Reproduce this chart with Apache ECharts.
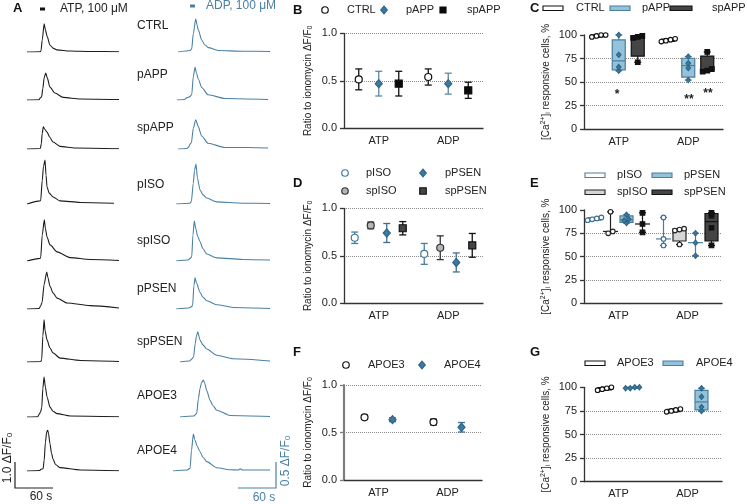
<!DOCTYPE html>
<html><head><meta charset="utf-8">
<script src="https://cdn.jsdelivr.net/npm/echarts@6/dist/echarts.min.js"></script>
<style>html,body{margin:0;padding:0;background:#fff}#c{width:747px;height:504px}</style>
</head><body><div id="c"></div>
<script>
// ---------------- DATA ----------------
const traceLabels = ['CTRL','pAPP','spAPP','pISO','spISO','pPSEN','spPSEN','APOE3','APOE4'];
// Panel A traces: [time s, ΔF/F0]
const atpCTRL  = [[0,0],[21,0.01],[22,0.04],[24,0.46],[27,1.08],[29,0.85],[32,0.58],[36,0.27],[41,0.15],[47,0.08],[68,0.04],[100,0.02],[145,0.01]];
const atpPAPP  = [[0,0],[19,0.01],[21,0.08],[23,0.12],[25,0.45],[27,0.85],[29.5,1.04],[32,0.85],[36,0.5],[44,0.27],[57,0.1],[84,0.04],[145,0.02]];
const atpSPAPP = [[0,0],[21,0.02],[22.5,0.2],[24,0.6],[25.7,0.85],[28,0.76],[31.6,0.65],[36,0.45],[41,0.27],[52,0.1],[76,0.04],[145,0.01]];
const atpPISO  = [[0,0],[20.5,0.12],[21.6,0.15],[24,0.9],[26,1.45],[28.4,1.69],[30,1.1],[31.6,0.65],[35,0.42],[41,0.27],[52,0.12],[84,0.06],[137,0.03]];
const atpSPISO = [[0,0],[20.5,0.1],[21.6,0.14],[24,1.0],[27.3,1.58],[29,1.25],[31.6,0.92],[36.3,0.62],[47.4,0.35],[68,0.13],[99.5,0.06],[145,0.02]];
const atpPPSEN = [[0,0],[19,0.02],[21.6,0.12],[23.7,0.25],[27,0.95],[31.1,1.42],[33,1.2],[36.3,0.87],[41,0.62],[47.4,0.42],[63,0.23],[99.5,0.13],[145,0.04]];
const atpSPPSEN= [[0,0],[22,0.02],[23.2,0.1],[25,1.0],[26.9,1.62],[28.5,1.2],[31.6,0.85],[36,0.55],[41,0.35],[52,0.15],[84,0.06],[145,0.02]];
const atpAPOE3 = [[0,0],[17,0.01],[19.5,0.12],[21.3,0.19],[23.2,0.35],[25,1.1],[26.9,1.54],[29,1.15],[31.6,0.77],[36.3,0.38],[41,0.22],[47.4,0.13],[68,0.04],[145,0.01]];
const atpAPOE4 = [[0,0],[20,0.02],[22,0.07],[25.3,0.08],[27,0.4],[29,1.1],[31,1.5],[32.7,1.57],[34,1.42],[36.3,1.04],[38.5,0.7],[41,0.46],[45,0.25],[52,0.13],[84,0.04],[145,0.01]];

const adpCTRL  = [[8,0],[27,0.03],[29.5,0.06],[32,0.35],[35.9,0.64],[38,0.52],[40,0.42],[45.3,0.23],[50,0.14],[55.8,0.085],[71,0.03],[110,0.015],[153,0.01]];
const adpPAPP  = [[6,0],[18,0.01],[22,0.045],[26,0.06],[29.5,0.1],[32,0.45],[34.8,0.63],[37,0.52],[40,0.4],[45.3,0.24],[55.3,0.1],[82,0.03],[150,0.01]];
const adpSPAPP = [[8,0],[22,0.01],[25,0.04],[27,0.1],[29,0.12],[32,0.4],[35.9,0.56],[39.5,0.44],[45.3,0.25],[55.3,0.11],[82,0.03],[120,0.03],[150,0.02]];
const adpPISO  = [[5,0],[26.9,0.015],[29,0.05],[32,0.4],[34,0.65],[36.3,0.77],[38.5,0.5],[42.7,0.27],[47,0.18],[53.2,0.115],[69,0.04],[110,0.015],[153,0.01]];
const adpSPISO = [[5,0],[24,0.02],[26.9,0.05],[29.5,0.08],[31.5,0.5],[33.6,0.77],[36,0.62],[39,0.47],[42.7,0.37],[47,0.24],[53.2,0.135],[69,0.06],[110,0.03],[153,0.02]];
const adpPPSEN = [[5,0],[25,0.02],[29.5,0.045],[31,0.08],[33,0.45],[34.8,0.6],[37,0.5],[42.7,0.32],[47,0.23],[53.2,0.16],[69,0.083],[95,0.03],[153,0.01]];
const adpSPPSEN= [[11,0],[26,0.02],[30,0.06],[32.5,0.1],[35,0.35],[37,0.5],[39,0.58],[42.7,0.42],[47,0.33],[53.2,0.25],[69,0.13],[95,0.063],[153,0.02]];
const adpAPOE3 = [[11,0],[33,0.02],[37.4,0.07],[40,0.35],[42.7,0.55],[45,0.66],[47.9,0.71],[50,0.65],[53.2,0.51],[58.5,0.32],[63,0.22],[69,0.13],[90,0.03],[153,0.01]];
const adpAPOE4 = [[0,0],[22,0.02],[26.9,0.05],[29.2,0.4],[32.1,0.71],[34.5,0.6],[38,0.48],[42.7,0.37],[47,0.27],[53.2,0.18],[69,0.063],[90,0.025],[103,0.02],[106,0.04],[110,0.02],[153,0.02]];

const categories = ['ATP','ADP'];

// Panel B: mean and error (ratio to ionomycin)
const bCtrlMean  = [0.515, 0.54], bCtrlErr  = [0.11, 0.085];
const bPappMean  = [0.47, 0.47],  bPappErr  = [0.13, 0.11];
const bSpappMean = [0.47, 0.40],  bSpappErr = [0.13, 0.085];
// Panel D
const dPisoMean   = [0.69, 0.52],  dPisoErr   = [0.06, 0.11];
const dSpisoMean  = [0.82, 0.585], dSpisoErr  = [0.035, 0.125];
const dPpsenMean  = [0.74, 0.43],  dPpsenErr  = [0.10, 0.10];
const dSppsenMean = [0.79, 0.61],  dSppsenErr = [0.07, 0.125];
// Panel F
const fApoe3Mean = [0.66, 0.61],  fApoe3Err = [0.02, 0.03];
const fApoe4Mean = [0.635, 0.555], fApoe4Err = [0.02, 0.05];

// Panel C: responsive cells, % (per culture)
const cCtrlAtp  = [98, 99, 100, 100], cCtrlAdp  = [93, 94, 95, 96];
const cPappAtp  = [62, 66, 79, 100],  cPappAdp  = [52, 65, 70, 77];
const cSpappAtp = [71, 97, 98, 99],   cSpappAdp = [61, 62, 64, 82];
// Panel E
const ePisoAtp   = [89, 90, 91, 92], ePisoAdp   = [62, 69, 92];
const eSpisoAtp  = [75, 77, 98],     eSpisoAdp  = [63, 78, 79, 80];
const ePpsenAtp  = [86, 89, 90, 95], ePpsenAdp  = [51, 65, 75];
const eSppsenAtp = [76, 85, 97],     eSppsenAdp = [62, 81, 94, 97];
// Panel G
const gApoe3Atp = [97, 98, 99, 100], gApoe3Adp = [74, 75, 76, 77];
const gApoe4Atp = [99, 99, 100, 100], gApoe4Adp = [75, 79, 90, 99];

// ---------------- STYLE ----------------
const FF = '"Liberation Sans", Arial, Helvetica, sans-serif';
const INK = '#222';
const AXC = '#333';
const BLUE = '#3d7aa0';
const BLUE_LINE = '#4b80a6';
const BLUE_EDGE = '#4d7c9c';
const LBLUE = '#93c2db';
const DARK = '#454545';
const GRAYPT = '#b5b5b5';
const LGRAY = '#d6d6d6';

const atpTraces = [atpCTRL, atpPAPP, atpSPAPP, atpPISO, atpSPISO, atpPPSEN, atpSPPSEN, atpAPOE3, atpAPOE4];
const adpTraces = [adpCTRL, adpPAPP, adpSPAPP, adpPISO, adpSPISO, adpPPSEN, adpSPPSEN, adpAPOE3, adpAPOE4];
const rowBase = [52, 100, 149, 204, 261, 309, 362, 417, 471];
const rowLabelY = [26, 75, 128, 185, 241, 289, 342, 396, 451];

const grid = [], xAxis = [], yAxis = [], series = [];

// trace grids
function hiddenAxes(gi, xmax, ymax) {
  xAxis.push({type: 'value', gridIndex: gi, min: 0, max: xmax, show: false});
  yAxis.push({type: 'value', gridIndex: gi, min: 0, max: ymax, show: false});
}
for (let i = 0; i < 9; i++) {
  grid.push({left: 27, top: rowBase[i] - 52, width: 92, height: 52});
  hiddenAxes(i, 145, 2);
  series.push({type: 'line', xAxisIndex: i, yAxisIndex: i, data: atpTraces[i], showSymbol: false,
    smooth: 0.25, smoothMonotone: 'x', lineStyle: {color: '#1c1c1c', width: 1.1}, silent: true});
}
for (let i = 0; i < 9; i++) {
  const gi = 9 + i;
  grid.push({left: 173, top: rowBase[i] - 52, width: 97, height: 52});
  hiddenAxes(gi, 153, 1);
  series.push({type: 'line', xAxisIndex: gi, yAxisIndex: gi, data: adpTraces[i], showSymbol: false,
    smooth: 0.25, smoothMonotone: 'x', lineStyle: {color: BLUE_LINE, width: 1.1}, silent: true});
}

// panel grids
const panels = {
  B: {left: 344, top: 33.3, width: 139, height: 95, ratio: true, maxLine: true},
  C: {left: 584, top: 35, width: 139, height: 94, ratio: false},
  D: {left: 344, top: 208.3, width: 139, height: 95, ratio: true, maxLine: true},
  E: {left: 584, top: 210, width: 138, height: 93.3, ratio: false},
  F: {left: 344, top: 385, width: 138, height: 95, ratio: true, maxLine: true, grayY: true},
  G: {left: 584, top: 387.3, width: 138, height: 94.4, ratio: false}
};
const pIdx = {};
Object.keys(panels).forEach((k, j) => {
  const p = panels[k];
  const gi = 18 + j;
  pIdx[k] = gi;
  grid.push({left: p.left, top: p.top, width: p.width, height: p.height});
  xAxis.push({type: 'category', gridIndex: gi, data: categories, boundaryGap: true,
    axisLine: {lineStyle: {color: AXC, width: 1.3}},
    axisTick: {alignWithLabel: true, length: 4, lineStyle: {color: AXC, width: 1.3}},
    axisLabel: {color: INK, fontSize: 11, fontFamily: FF, margin: 7}, splitLine: {show: false}});
  yAxis.push({type: 'value', gridIndex: gi, min: 0, max: p.ratio ? 1 : 100, interval: p.ratio ? 0.5 : 25,
    axisLine: {show: true, lineStyle: {color: p.grayY ? '#7d7d7d' : AXC, width: p.grayY ? 2.2 : 1.3}},
    axisTick: {show: true, length: 4, lineStyle: {color: p.grayY ? '#7d7d7d' : AXC, width: 1.3}},
    axisLabel: {color: INK, fontSize: 11, fontFamily: FF, margin: 7,
      formatter: v => p.ratio ? v.toFixed(1) : String(v)},
    splitLine: {show: true, showMinLine: false, showMaxLine: !!p.maxLine,
      lineStyle: {type: 'dotted', color: '#8c8c8c', width: 1}},
    name: p.ratio ? 'Ratio to ionomycin ΔF/F{sub|0}' : '[Ca{sup|2+}]{sub|i} responsive cells, %',
    nameLocation: 'middle', nameGap: p.ratio ? 30 : 32,
    nameTextStyle: {color: INK, fontSize: 10, fontFamily: FF, lineHeight: 12,
      rich: {sub: {fontSize: 7, fontFamily: FF, color: INK, verticalAlign: 'bottom', lineHeight: 12},
             sup: {fontSize: 7, fontFamily: FF, color: INK, verticalAlign: 'top', lineHeight: 12}}}
  });
});

// marker drawing helper
function marker(shape, x, y, size, fill, stroke, lw) {
  const r = size / 2;
  const st = {fill: fill, stroke: stroke, lineWidth: lw || 1.1};
  if (shape === 'circle') return {type: 'circle', shape: {cx: x, cy: y, r: r}, style: st};
  if (shape === 'diamond') return {type: 'polygon', shape: {points: [[x, y - r * 1.15], [x + r, y], [x, y + r * 1.15], [x - r, y]]}, style: st};
  return {type: 'rect', shape: {x: x - r, y: y - r, width: size, height: size}, style: st};
}

// error-bar + marker series
function errSeries(panel, means, errs, offset, o) {
  const gi = pIdx[panel];
  const data = means.map((m, i) => [i, m, errs[i]]);
  series.push({type: 'custom', xAxisIndex: gi, yAxisIndex: gi, data: data, silent: true, z: 5,
    renderItem: function (params, api) {
      const c = api.coord([api.value(0), api.value(1)]);
      const x = c[0] + offset;
      const yt = api.coord([api.value(0), api.value(1) + api.value(2)])[1];
      const yb = api.coord([api.value(0), api.value(1) - api.value(2)])[1];
      const ls = {stroke: o.bar, lineWidth: 1.3};
      return {type: 'group', children: [
        {type: 'line', shape: {x1: x, y1: yt, x2: x, y2: yb}, style: ls},
        {type: 'line', shape: {x1: x - 3.5, y1: yt, x2: x + 3.5, y2: yt}, style: ls},
        {type: 'line', shape: {x1: x - 3.5, y1: yb, x2: x + 3.5, y2: yb}, style: ls},
        marker(o.shape, x, c[1], o.size || 7, o.fill, o.stroke, 1.2)
      ]};
    }});
}

// quartiles (n+1 method)
function quant(sorted, p) {
  const n = sorted.length;
  let pos = p * (n + 1);
  pos = Math.min(Math.max(pos, 1), n);
  const lo = Math.floor(pos), hi = Math.ceil(pos);
  return sorted[lo - 1] + (pos - lo) * (sorted[hi - 1] - sorted[lo - 1]);
}
function jitter(vals) {
  const idx = vals.map((v, i) => i).sort((a, b) => vals[a] - vals[b]);
  const dx = vals.map(() => 0);
  let cl = [idx[0]];
  for (let k = 1; k <= idx.length; k++) {
    if (k < idx.length && vals[idx[k]] - vals[cl[cl.length - 1]] < 3) cl.push(idx[k]);
    else {
      const m = cl.length;
      cl.forEach((id, j) => { dx[id] = (j - (m - 1) / 2) * 4.6; });
      if (k < idx.length) cl = [idx[k]];
    }
  }
  return dx;
}
function boxSeries(panel, atpPts, adpPts, offset, o) {
  const gi = pIdx[panel];
  const groups = [atpPts, adpPts];
  const boxData = groups.map((g, i) => {
    const s = g.slice().sort((a, b) => a - b);
    return [i, s[0], quant(s, 0.25), quant(s, 0.5), quant(s, 0.75), s[s.length - 1], s.length];
  });
  series.push({type: 'custom', xAxisIndex: gi, yAxisIndex: gi, data: boxData, silent: true, z: 4,
    renderItem: function (params, api) {
      const x = api.coord([api.value(0), 0])[0] + offset;
      const Y = v => api.coord([api.value(0), v])[1];
      const mn = api.value(1), q1 = api.value(2), md = api.value(3), q3 = api.value(4), mx = api.value(5), n = api.value(6);
      const hw = 6.5, cw = 3.5;
      const ls = {stroke: o.edge, lineWidth: 1.2};
      const ch = [
        {type: 'line', shape: {x1: x, y1: Y(mx), x2: x, y2: Y(mn)}, style: ls},
        {type: 'line', shape: {x1: x - cw, y1: Y(mx), x2: x + cw, y2: Y(mx)}, style: ls},
        {type: 'line', shape: {x1: x - cw, y1: Y(mn), x2: x + cw, y2: Y(mn)}, style: ls}
      ];
      if (n > 3) ch.push({type: 'rect', shape: {x: x - hw, y: Y(q3), width: 2 * hw, height: Y(q1) - Y(q3)},
        style: {fill: o.box, stroke: o.edge, lineWidth: 1.2}});
      const mw = n > 3 ? hw : 7.5;
      ch.push({type: 'line', shape: {x1: x - mw, y1: Y(md), x2: x + mw, y2: Y(md)}, style: ls});
      return {type: 'group', children: ch};
    }});
  const ptData = [];
  groups.forEach((g, i) => { const d = jitter(g); g.forEach((v, j) => ptData.push([i, v, d[j]])); });
  series.push({type: 'custom', xAxisIndex: gi, yAxisIndex: gi, data: ptData, silent: true, z: 6,
    renderItem: function (params, api) {
      const c = api.coord([api.value(0), api.value(1)]);
      return marker(o.shape, c[0] + offset + api.value(2), c[1], 4.6, o.pfill, o.pstroke, 1.1);
    }});
}

// Panel B
errSeries('B', bCtrlMean, bCtrlErr, -20, {shape: 'circle', fill: '#fff', stroke: '#111', bar: '#111'});
errSeries('B', bPappMean, bPappErr, 0, {shape: 'diamond', fill: BLUE, stroke: '#2f6587', bar: '#5d87a3'});
errSeries('B', bSpappMean, bSpappErr, 20, {shape: 'square', fill: '#0a0a0a', stroke: '#0a0a0a', bar: '#111'});
// Panel D
errSeries('D', dPisoMean, dPisoErr, -24, {shape: 'circle', fill: '#fff', stroke: BLUE, bar: '#4d7c9c'});
errSeries('D', dSpisoMean, dSpisoErr, -8, {shape: 'circle', fill: GRAYPT, stroke: '#333', bar: '#333'});
errSeries('D', dPpsenMean, dPpsenErr, 8, {shape: 'diamond', fill: BLUE, stroke: '#2f6587', bar: '#3f6f90'});
errSeries('D', dSppsenMean, dSppsenErr, 24, {shape: 'square', fill: DARK, stroke: '#111', bar: '#111'});
// Panel F
errSeries('F', fApoe3Mean, fApoe3Err, -14, {shape: 'circle', fill: '#fff', stroke: '#111', bar: '#111'});
errSeries('F', fApoe4Mean, fApoe4Err, 14, {shape: 'diamond', fill: BLUE, stroke: '#2f6587', bar: '#3f6f90'});
// Panel C
boxSeries('C', cCtrlAtp, cCtrlAdp, -20, {box: '#fff', edge: '#111', shape: 'circle', pfill: '#fff', pstroke: '#111'});
boxSeries('C', cPappAtp, cPappAdp, 0, {box: LBLUE, edge: BLUE_EDGE, shape: 'diamond', pfill: BLUE, pstroke: '#2f6587'});
boxSeries('C', cSpappAtp, cSpappAdp, 19, {box: DARK, edge: '#111', shape: 'square', pfill: '#111', pstroke: '#111'});
// Panel E
boxSeries('E', ePisoAtp, ePisoAdp, -24, {box: '#fff', edge: BLUE_EDGE, shape: 'circle', pfill: '#fff', pstroke: '#3d6f90'});
boxSeries('E', eSpisoAtp, eSpisoAdp, -8, {box: LGRAY, edge: '#222', shape: 'circle', pfill: '#fff', pstroke: '#222'});
boxSeries('E', ePpsenAtp, ePpsenAdp, 8, {box: LBLUE, edge: BLUE_EDGE, shape: 'diamond', pfill: BLUE, pstroke: '#2f6587'});
boxSeries('E', eSppsenAtp, eSppsenAdp, 24, {box: DARK, edge: '#111', shape: 'square', pfill: '#111', pstroke: '#111'});
// Panel G
boxSeries('G', gApoe3Atp, gApoe3Adp, -14, {box: '#fff', edge: '#111', shape: 'circle', pfill: '#fff', pstroke: '#111'});
boxSeries('G', gApoe4Atp, gApoe4Adp, 14, {box: LBLUE, edge: BLUE_EDGE, shape: 'diamond', pfill: BLUE, pstroke: '#2f6587'});

// ---------------- GRAPHIC (labels, legends, scale bars) ----------------
const G = [];
function txt(x, y, text, o) {
  o = o || {};
  G.push({type: 'text', x: x, y: y, rotation: o.rot || 0, silent: true, z: 10,
    style: {text: text, fontSize: o.size || 11, fontFamily: FF, fontWeight: o.bold ? 'bold' : 'normal',
      fill: o.color || INK, align: o.align || 'left', verticalAlign: 'middle',
      textAlign: o.align || 'left', textVerticalAlign: 'middle', rich: o.rich}});
}
function rect(x, y, w, h, fill, stroke) {
  G.push({type: 'rect', shape: {x: x, y: y, width: w, height: h}, silent: true, z: 10,
    style: {fill: fill, stroke: stroke || null, lineWidth: 1.1}});
}
function legMarker(shape, x, y, size, fill, stroke) {
  const m = marker(shape, x, y, size, fill, stroke, 1.2); m.silent = true; m.z = 10; G.push(m);
}
function line(points, color, w) {
  G.push({type: 'polyline', shape: {points: points}, silent: true, z: 10, style: {stroke: color, lineWidth: w || 1.2, fill: null}});
}

// panel letters
[['A', 13, 8], ['B', 293, 10], ['C', 530, 8], ['D', 293, 183], ['E', 530, 183], ['F', 293, 352], ['G', 530, 352]]
  .forEach(l => txt(l[1], l[2], l[0], {size: 13, bold: true, color: '#111'}));

// Panel A headers
rect(40, 7.5, 5, 3, '#111');
txt(60, 9, 'ATP, 100 μM', {size: 12});
rect(190, 4.5, 5, 3, BLUE_LINE);
txt(206, 6, 'ADP, 100 μM', {size: 12, color: BLUE_LINE});
traceLabels.forEach((t, i) => txt(137, rowLabelY[i], t, {size: 12}));

// scale bars
const subRich = c => ({s: {fontSize: 8, fontFamily: FF, fill: c, color: c, verticalAlign: 'bottom'}});
line([[15, 462], [15, 488], [53, 488]], '#222', 1.2);
txt(8, 458, '1.0 ΔF/F{s|0}', {size: 12, align: 'center', rot: Math.PI / 2, rich: subRich(INK)});
txt(41, 497, '60 s', {size: 12, align: 'center'});
line([[238, 488], [276, 488], [276, 462]], BLUE_LINE, 1.2);
txt(286, 461, '0.5 ΔF/F{s|0}', {size: 12, align: 'center', rot: Math.PI / 2, color: BLUE_LINE, rich: subRich(BLUE_LINE)});
txt(264, 498, '60 s', {size: 12, align: 'center', color: BLUE_LINE});

// Legend B
legMarker('circle', 325, 10, 6.5, '#fff', '#111'); txt(347, 10, 'CTRL');
legMarker('diamond', 384, 10, 6.5, BLUE, '#2f6587'); txt(406, 10, 'pAPP');
legMarker('square', 443, 10, 6, '#0a0a0a', '#0a0a0a'); txt(467, 10, 'spAPP');
// Legend C
rect(543, 6, 20, 4.5, '#fff', '#111'); txt(576, 8, 'CTRL');
rect(610, 6, 20, 4.5, LBLUE, BLUE_EDGE); txt(642, 8, 'pAPP');
rect(670, 6, 22, 4.5, DARK, '#111'); txt(712, 8, 'spAPP');
// Legend D
legMarker('circle', 345, 173, 6.5, '#fff', BLUE); txt(366, 173, 'pISO');
legMarker('diamond', 423, 173, 6.5, BLUE, '#2f6587'); txt(445, 173, 'pPSEN');
legMarker('circle', 345, 191, 6.5, GRAYPT, '#333'); txt(366, 191, 'spISO');
legMarker('square', 423, 191, 6.5, DARK, '#111'); txt(445, 191, 'spPSEN');
// Legend E
rect(585, 173, 20, 4.5, '#fff', BLUE_EDGE); txt(617, 175, 'pISO');
rect(652, 173, 20, 4.5, LBLUE, BLUE_EDGE); txt(684, 175, 'pPSEN');
rect(585, 190, 20, 4.5, LGRAY, '#222'); txt(617, 192, 'spISO');
rect(652, 190, 20, 4.5, DARK, '#111'); txt(684, 192, 'spPSEN');
// Legend F
legMarker('circle', 346, 365, 6.5, '#fff', '#111'); txt(368, 365, 'APOE3');
legMarker('diamond', 422, 365, 6.5, BLUE, '#2f6587'); txt(444, 365, 'APOE4');
// Legend G
rect(585, 361, 20, 4.5, '#fff', '#111'); txt(617, 363, 'APOE3');
rect(663, 361, 20, 4.5, LBLUE, BLUE_EDGE); txt(696, 363, 'APOE4');

// significance asterisks (panel C)
txt(617, 95, '*', {size: 12, align: 'center', bold: true});
txt(689, 100, '**', {size: 12, align: 'center', bold: true});
txt(708, 94, '**', {size: 12, align: 'center', bold: true});

const chart = echarts.init(document.getElementById('c'), null, {renderer: 'canvas', width: 747, height: 504});
chart.setOption({
  animation: false,
  backgroundColor: '#fff',
  textStyle: {fontFamily: FF},
  grid: grid, xAxis: xAxis, yAxis: yAxis, series: series, graphic: G
});
</script></body></html>
